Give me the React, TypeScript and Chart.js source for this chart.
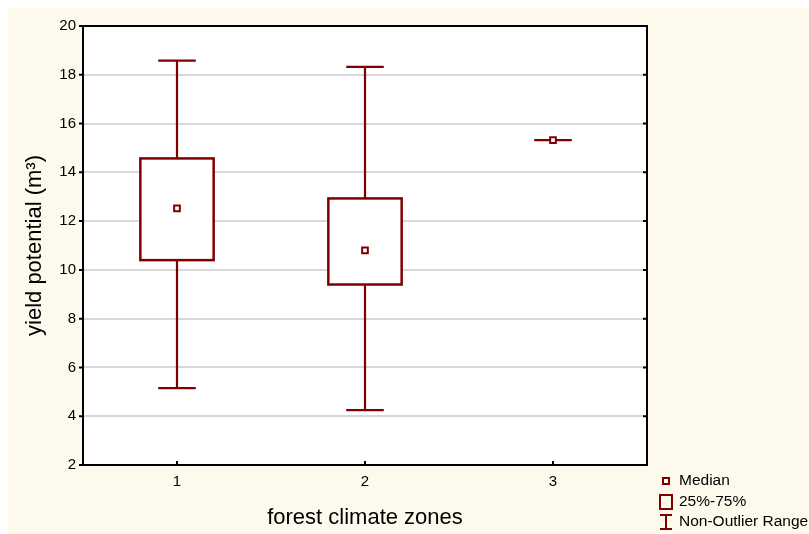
import { useEffect, useRef } from 'react';
import { Chart, registerables } from 'chart.js';

Chart.register(...registerables);

const categories = ['1', '2', '3'];
const medians = [12.52, 10.8, 15.32];
const q1 = [10.4, 9.4, 15.32];
const q3 = [14.57, 12.93, 15.32];
const whiskerMin = [5.15, 4.25, 15.32];
const whiskerMax = [18.58, 18.32, 15.32];
const yMin = 2;
const yMax = 20;
const yStep = 2;
const legendLabels = ['Median', '25%-75%', 'Non-Outlier Range'];
const xTitle = 'forest climate zones';
const yTitle = 'yield potential (m³)';

const RED = '#800000';
const BG = '#fdf9ec';
const FONT = "'Liberation Sans', Arial, sans-serif";

const bgPlugin = {
  id: 'bg',
  beforeDraw(chart: any) {
    const { ctx, width, height, chartArea } = chart;
    ctx.save();
    ctx.fillStyle = BG;
    ctx.fillRect(0, 0, width, height);
    ctx.fillStyle = '#ffffff';
    ctx.fillRect(chartArea.left, chartArea.top, chartArea.right - chartArea.left, chartArea.bottom - chartArea.top);
    ctx.restore();
  },
};

const boxPlugin = {
  id: 'boxes',
  beforeDatasetsDraw(chart: any) {
    const { ctx } = chart;
    const xs = chart.scales.x;
    const ys = chart.scales.y;
    const band = xs.getPixelForValue(1) - xs.getPixelForValue(0);
    const boxHalf = band * 0.195;
    const capHalf = band * 0.1;
    ctx.save();
    ctx.strokeStyle = RED;
    ctx.lineWidth = 2.2;
    categories.forEach((_, i) => {
      const cx = xs.getPixelForValue(i);
      const pMax = ys.getPixelForValue(whiskerMax[i]);
      const pMin = ys.getPixelForValue(whiskerMin[i]);
      const pQ1 = ys.getPixelForValue(q1[i]);
      const pQ3 = ys.getPixelForValue(q3[i]);
      ctx.beginPath();
      if (q3[i] > q1[i]) {
        ctx.moveTo(cx, pMax);
        ctx.lineTo(cx, pQ3);
        ctx.moveTo(cx, pQ1);
        ctx.lineTo(cx, pMin);
      } else {
        ctx.moveTo(cx, pMax);
        ctx.lineTo(cx, pMin);
      }
      ctx.moveTo(cx - capHalf, pMax);
      ctx.lineTo(cx + capHalf, pMax);
      ctx.moveTo(cx - capHalf, pMin);
      ctx.lineTo(cx + capHalf, pMin);
      ctx.stroke();
      if (q3[i] > q1[i]) {
        ctx.lineWidth = 2.5;
        ctx.fillStyle = '#ffffff';
        ctx.fillRect(cx - boxHalf, pQ3, boxHalf * 2, pQ1 - pQ3);
        ctx.strokeRect(cx - boxHalf, pQ3, boxHalf * 2, pQ1 - pQ3);
        ctx.lineWidth = 2.2;
      }
    });
    ctx.restore();
  },
};

const framePlugin = {
  id: 'frame',
  afterDraw(chart: any) {
    const { ctx, chartArea } = chart;
    const { left, right, top, bottom } = chartArea;
    const xs = chart.scales.x;
    const ys = chart.scales.y;
    ctx.save();
    ctx.strokeStyle = '#000000';
    ctx.lineWidth = 2;
    ctx.strokeRect(left, top, right - left, bottom - top);
    ctx.beginPath();
    for (let v = yMin; v <= yMax; v += yStep) {
      const py = ys.getPixelForValue(v);
      ctx.moveTo(left - 4, py);
      ctx.lineTo(left, py);
      ctx.moveTo(right - 4, py);
      ctx.lineTo(right, py);
    }
    categories.forEach((_, i) => {
      const px = xs.getPixelForValue(i);
      ctx.moveTo(px, bottom);
      ctx.lineTo(px, bottom - 4);
    });
    ctx.stroke();

    // legend
    const ix = right + 19;
    const tx = right + 32;
    const rows = [bottom + 16, bottom + 37, bottom + 57];
    ctx.strokeStyle = RED;
    ctx.lineWidth = 2;
    ctx.fillStyle = '#ffffff';
    ctx.fillRect(ix - 3, rows[0] - 3, 6, 6);
    ctx.strokeRect(ix - 3, rows[0] - 3, 6, 6);
    ctx.strokeRect(ix - 6, rows[1] - 7, 12, 14);
    ctx.beginPath();
    ctx.moveTo(ix - 6, rows[2] - 7);
    ctx.lineTo(ix + 6, rows[2] - 7);
    ctx.moveTo(ix, rows[2] - 7);
    ctx.lineTo(ix, rows[2] + 7);
    ctx.moveTo(ix - 6, rows[2] + 7);
    ctx.lineTo(ix + 6, rows[2] + 7);
    ctx.stroke();
    ctx.fillStyle = '#000000';
    ctx.font = `15.5px ${FONT}`;
    ctx.textAlign = 'left';
    ctx.textBaseline = 'middle';
    legendLabels.forEach((t, i) => ctx.fillText(t, tx, rows[i]));
    ctx.restore();
  },
};

export default function App() {
  const ref = useRef<HTMLCanvasElement | null>(null);
  useEffect(() => {
    if (!ref.current) return;
    const chart = new Chart(ref.current, {
      type: 'line',
      data: {
        labels: categories,
        datasets: [
          {
            label: 'Median',
            data: medians,
            showLine: false,
            pointStyle: 'rect',
            pointRadius: 4,
            pointBorderWidth: 2,
            pointBorderColor: RED,
            pointBackgroundColor: '#ffffff',
            borderColor: RED,
            backgroundColor: '#ffffff',
          },
        ],
      },
      options: {
        animation: false,
        responsive: false,
        events: [],
        layout: { padding: { left: 0, top: 18, right: 162, bottom: 0 } },
        plugins: { legend: { display: false }, tooltip: { enabled: false } },
        scales: {
          x: {
            type: 'category',
            offset: true,
            grid: { display: false, drawTicks: false },
            border: { display: false },
            ticks: { color: '#000', font: { family: FONT, size: 15 }, padding: 8 },
            title: {
              display: true,
              text: xTitle,
              color: '#000',
              font: { family: FONT, size: 22 },
              padding: { top: 0, bottom: 3 },
            },
            afterFit: (s: any) => {
              s.height = 69;
            },
          },
          y: {
            type: 'linear',
            min: yMin,
            max: yMax,
            grid: { color: '#d8d8d8', lineWidth: 2, drawTicks: false },
            border: { display: false },
            ticks: { stepSize: yStep, color: '#000', font: { family: FONT, size: 15 }, padding: 7 },
            title: {
              display: true,
              text: yTitle,
              color: '#000',
              font: { family: FONT, size: 22 },
              padding: { top: 14, bottom: 0 },
            },
            afterFit: (s: any) => {
              s.width = 75;
            },
          },
        },
      },
      plugins: [bgPlugin, boxPlugin, framePlugin],
    });
    return () => chart.destroy();
  }, []);
  return (
    <canvas
      ref={ref}
      width={801}
      height={526}
      style={{ display: 'block', position: 'fixed', left: 8, top: 8, width: 801, height: 526 }}
    />
  );
}
